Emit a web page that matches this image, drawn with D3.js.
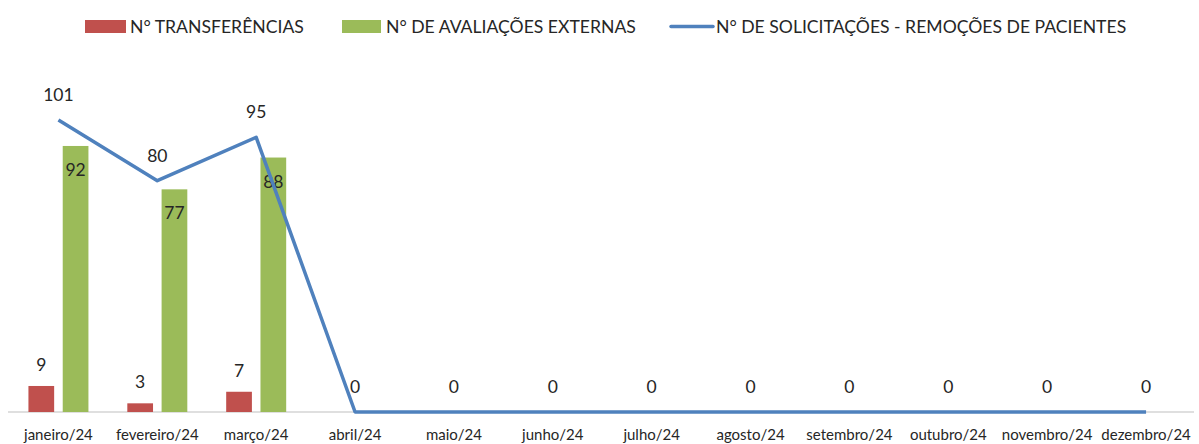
<!DOCTYPE html>
<html>
<head>
<meta charset="utf-8">
<script src="https://cdn.jsdelivr.net/npm/d3@7"></script>
<style>
  body { margin: 0; background: #fff; }
  text { font-family: Lato, "Open Sans", sans-serif; fill: #262626; }
</style>
</head>
<body>
<div id="chart"></div>
<script>
var months = ["janeiro/24", "fevereiro/24", "março/24", "abril/24", "maio/24", "junho/24",
  "julho/24", "agosto/24", "setembro/24", "outubro/24", "novembro/24", "dezembro/24"];
var transferencias = [9, 3, 7, 0, 0, 0, 0, 0, 0, 0, 0, 0];
var avaliacoes = [92, 77, 88, 0, 0, 0, 0, 0, 0, 0, 0, 0];
var solicitacoes = [101, 80, 95, 0, 0, 0, 0, 0, 0, 0, 0, 0];
var seriesNames = ["N° TRANSFERÊNCIAS", "N° DE AVALIAÇÕES EXTERNAS", "N° DE SOLICITAÇÕES - REMOÇÕES DE PACIENTES"];

var width = 1199, height = 444;
var red = "#C0504D", green = "#9BBB59", blue = "#4F81BD";

var svg = d3.select("#chart").append("svg")
    .attr("width", width)
    .attr("height", height);

var xScale = d3.scaleBand()
    .domain(months)
    .range([9, 1195.5]);

var yScale = d3.scaleLinear()
    .domain([0, 120])
    .range([412, 65]);

var bw = xScale.bandwidth();
var x1 = d3.scaleBand()
    .domain(["t", "a"])
    .range([bw / 2 - 30, bw / 2 + 30])
    .paddingInner(0.25);

// eixo x
svg.append("line")
    .attr("x1", 8).attr("x2", 1194)
    .attr("y1", yScale(0)).attr("y2", yScale(0))
    .attr("stroke", "#BFBFBF").attr("stroke-width", 1.2);

svg.selectAll(".xlab")
    .data(months)
    .enter().append("text")
    .attr("class", "xlab")
    .attr("x", function(d) { return xScale(d) + bw / 2; })
    .attr("y", 440)
    .attr("text-anchor", "middle")
    .style("font-size", "15px")
    .text(function(d) { return d; });

// barras
var groups = svg.selectAll(".grp")
    .data(months)
    .enter().append("g")
    .attr("transform", function(d) { return "translate(" + xScale(d) + ",0)"; });

groups.append("rect")
    .attr("x", x1("t"))
    .attr("width", x1.bandwidth())
    .attr("y", function(d, i) { return yScale(transferencias[i]); })
    .attr("height", function(d, i) { return yScale(0) - yScale(transferencias[i]); })
    .attr("fill", red);

groups.append("rect")
    .attr("x", x1("a"))
    .attr("width", x1.bandwidth())
    .attr("y", function(d, i) { return yScale(avaliacoes[i]); })
    .attr("height", function(d, i) { return yScale(0) - yScale(avaliacoes[i]); })
    .attr("fill", green);

// rótulos das barras (só os não-zero)
groups.filter(function(d, i) { return transferencias[i] > 0; })
    .append("text")
    .attr("x", x1("t") + x1.bandwidth() / 2)
    .attr("y", function(d) { return yScale(transferencias[months.indexOf(d)]) - 15; })
    .attr("text-anchor", "middle")
    .style("font-size", "17.5px")
    .text(function(d) { return transferencias[months.indexOf(d)]; });

groups.filter(function(d, i) { return avaliacoes[i] > 0; })
    .append("text")
    .attr("x", x1("a") + x1.bandwidth() / 2)
    .attr("y", function(d) { return yScale(avaliacoes[months.indexOf(d)]) + 30; })
    .attr("text-anchor", "middle")
    .style("font-size", "17.5px")
    .text(function(d) { return avaliacoes[months.indexOf(d)]; });

// linha
var line = d3.line()
    .x(function(d, i) { return xScale(months[i]) + bw / 2; })
    .y(function(d) { return yScale(d); });

svg.append("path")
    .datum(solicitacoes)
    .attr("d", line)
    .attr("fill", "none")
    .attr("stroke", blue)
    .attr("stroke-width", 3.5)
    .attr("stroke-linejoin", "round");

svg.selectAll(".llab")
    .data(solicitacoes)
    .enter().append("text")
    .attr("class", "llab")
    .attr("x", function(d, i) { return xScale(months[i]) + bw / 2; })
    .attr("y", function(d) { return yScale(d) - 19; })
    .attr("text-anchor", "middle")
    .style("font-size", "17.5px")
    .text(function(d) { return d; });

// legenda
var leg = svg.append("g");
leg.append("rect").attr("x", 85).attr("y", 20).attr("width", 41).attr("height", 13).attr("fill", red);
leg.append("text").attr("x", 130).attr("y", 33).style("font-size", "17.6px").text(seriesNames[0]);
leg.append("rect").attr("x", 342).attr("y", 20).attr("width", 39).attr("height", 13).attr("fill", green);
leg.append("text").attr("x", 386).attr("y", 33).style("font-size", "17.6px").text(seriesNames[1]);
leg.append("line").attr("x1", 671).attr("x2", 713).attr("y1", 26.5).attr("y2", 26.5)
    .attr("stroke", blue).attr("stroke-width", 3.5).attr("stroke-linecap", "round");
leg.append("text").attr("x", 716).attr("y", 33).style("font-size", "17.6px").text(seriesNames[2]);
</script>
</body>
</html>
